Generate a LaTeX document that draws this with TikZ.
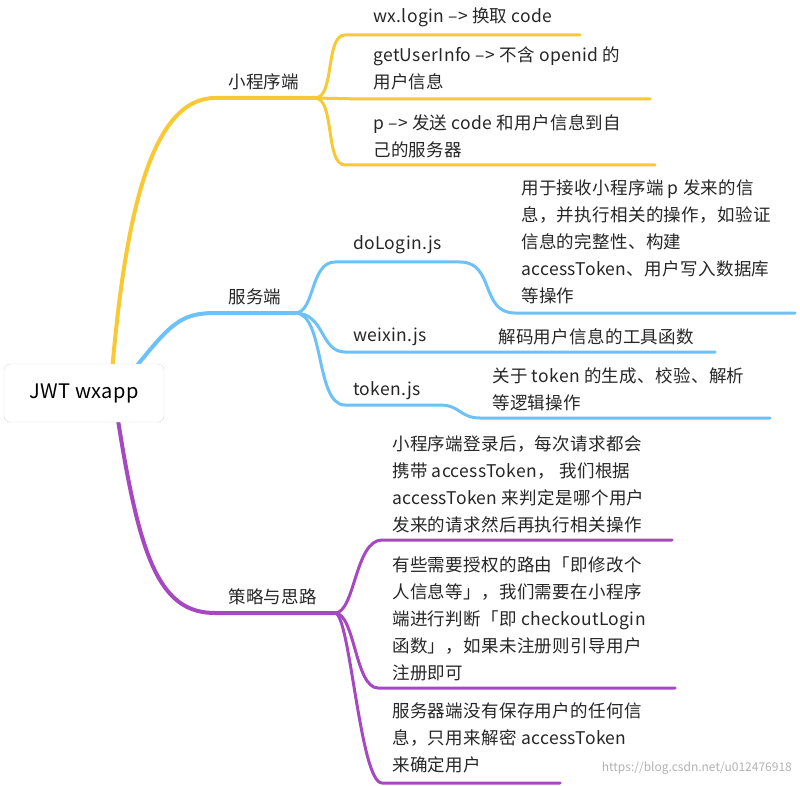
\documentclass[tikz,border=0pt]{standalone}
\usepackage{fontspec}
\setmainfont{Noto Sans CJK SC}[LetterSpace=2]
\begin{document}
\begin{tikzpicture}[x=1pt,y=-1pt,
 txt/.style={anchor=north west,align=left,inner sep=0pt,font=\fontsize{17.5}{27}\selectfont,text=black!85},
 ylw/.style={line width=4pt,line cap=round},
 blu/.style={line width=4pt,line cap=round},
 pur/.style={line width=4pt,line cap=round}]
\definecolor{Y}{HTML}{F9C933}\definecolor{B}{HTML}{6CC2F6}\definecolor{P}{HTML}{A648C2}
\tikzset{ylw/.append style={draw=Y},blu/.append style={draw=B},pur/.append style={draw=P}}
\useasboundingbox (0,0) rectangle (800,786);
\coordinate (ry) at (112,372); \coordinate (rb) at (135,368); \coordinate (rp) at (118,420);
\coordinate (y0) at (215,98); \coordinate (y1) at (315,98);
\coordinate (b0) at (215,313); \coordinate (b1) at (295,313);
\coordinate (p0) at (215,613); \coordinate (p1) at (335,613);
\draw[ylw] (ry) .. controls (125,220) and (150,98) .. (y0) -- (y1);
\draw[blu] (rb) .. controls (170,325) and (180,313) .. (b0) -- (b1);
\draw[pur] (rp) .. controls (140,560) and (160,613) .. (p0) -- (p1);
\coordinate (ya) at (345,35); \coordinate (yae) at (580,35);
\coordinate (yb) at (360,99); \coordinate (ybe) at (650,99);
\coordinate (yc) at (345,165); \coordinate (yce) at (655,165);
\draw[ylw,line width=3pt] (y1) .. controls (335,98) and (325,35) .. (ya) -- (yae);
\draw[ylw,line width=3pt] (y1) -- (yb) -- (ybe);
\draw[ylw,line width=3pt] (y1) .. controls (335,98) and (325,165) .. (yc) -- (yce);
\node[txt] (ta) at (373,8) {wx.login –> 换取 code};
\node[txt] (tb) at (373,47) {getUserInfo –> 不含 openid 的\\用户信息};
\node[txt] (tc) at (373,114) {p –> 发送 code 和用户信息到自\\己的服务器};
\coordinate (ba) at (335,262); \coordinate (bae) at (460,262);
\coordinate (bat) at (515,313); \coordinate (bate) at (795,313);
\coordinate (bb) at (345,352); \coordinate (bbe) at (715,352);
\coordinate (bc) at (345,405); \coordinate (bce) at (440,405);
\coordinate (bct) at (480,418); \coordinate (bcte) at (770,418);
\draw[blu,line width=3pt] (b1) .. controls (315,313) and (310,262) .. (ba) -- (bae) .. controls (495,262) and (480,313) .. (bat) -- (bate);
\draw[blu,line width=3pt] (b1) .. controls (325,313) and (320,352) .. (bb) -- (bbe);
\draw[blu,line width=3pt] (b1) .. controls (325,313) and (315,405) .. (bc) -- (bce) .. controls (460,405) and (460,418) .. (bct) -- (bcte);
\node[txt] (tba) at (353,235) {doLogin.js};
\node[txt] (tbat) at (521,180) {用于接收小程序端 p 发来的信\\息，并执行相关的操作，如验证\\信息的完整性、构建\\accessToken、用户写入数据库\\等操作};
\node[txt] (tbb) at (353,328) {weixin.js};
\node[txt] (tbbt) at (498,328) {解码用户信息的工具函数};
\node[txt] (tbc) at (353,381) {token.js};
\node[txt] (tbct) at (492,367) {关于 token 的生成、校验、解析\\等逻辑操作};
\coordinate (pa) at (382,540); \coordinate (pae) at (672,540);
\coordinate (pb) at (378,688); \coordinate (pbe) at (675,688);
\coordinate (pc) at (382,783); \coordinate (pce) at (560,783);
\draw[pur,line width=3pt] (p1) .. controls (355,613) and (355,540) .. (pa) -- (pae);
\draw[pur,line width=3pt] (p1) .. controls (355,613) and (355,688) .. (pb) -- (pbe);
\draw[pur,line width=3pt] (p1) .. controls (350,613) and (360,783) .. (pc) -- (pce);
\node[txt] (tpa) at (392,435) {小程序端登录后，每次请求都会\\携带 accessToken， 我们根据\\accessToken 来判定是哪个用户\\发来的请求然后再执行相关操作};
\node[txt] (tpb) at (392,556) {有些需要授权的路由「即修改个\\人信息等」，我们需要在小程序\\端进行判断「即 checkoutLogin\\函数」，如果未注册则引导用户\\注册即可};
\node[txt] (tpc) at (392,703) {服务器端没有保存用户的任何信\\息，只用来解密 accessToken\\来确定用户};
\node[txt] (ly) at (228,74) {小程序端};
\node[txt] (lb) at (228,289) {服务端};
\node[txt] (lp) at (228,589) {策略与思路};
\node[draw=black!15,fill=white,rounded corners=6pt,minimum width=160pt,minimum height=58pt,font=\fontsize{20}{24}\selectfont] (root) at (84,393) {JWT wxapp};
\node[anchor=east,inner sep=0pt,text=black!30,font=\fontsize{12}{14}\selectfont\addfontfeature{LetterSpace=0}] (wm) at (792,768) {https://blog.csdn.net/u012476918};
\end{tikzpicture}
\end{document}
